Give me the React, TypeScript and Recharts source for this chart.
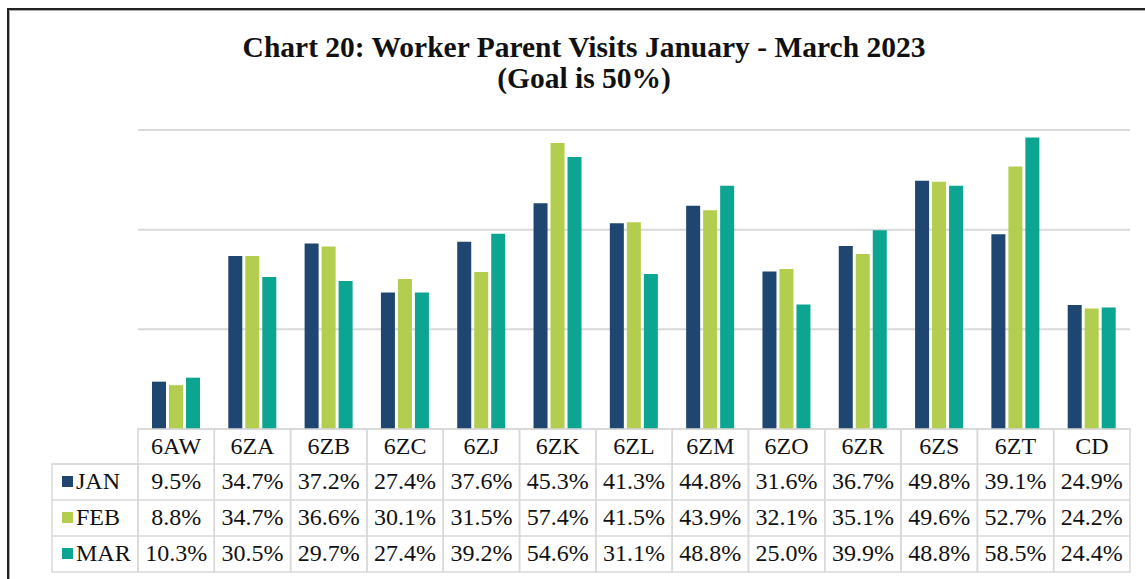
import React from "react";
import { BarChart, Bar, XAxis, YAxis, CartesianGrid } from "recharts";

const categories = ["6AW", "6ZA", "6ZB", "6ZC", "6ZJ", "6ZK", "6ZL", "6ZM", "6ZO", "6ZR", "6ZS", "6ZT", "CD"];
const jan = [9.5, 34.7, 37.2, 27.4, 37.6, 45.3, 41.3, 44.8, 31.6, 36.7, 49.8, 39.1, 24.9];
const feb = [8.8, 34.7, 36.6, 30.1, 31.5, 57.4, 41.5, 43.9, 32.1, 35.1, 49.6, 52.7, 24.2];
const mar = [10.3, 30.5, 29.7, 27.4, 39.2, 54.6, 31.1, 48.8, 25.0, 39.9, 48.8, 58.5, 24.4];
const yTicks = [0, 20, 40, 60];

const series = [
    { key: "JAN", values: jan, color: "#1E4670" },
    { key: "FEB", values: feb, color: "#B3CE4E" },
    { key: "MAR", values: mar, color: "#0BA591" }
];

const data = categories.map((name, i) => ({
    name,
    JAN: jan[i],
    FEB: feb[i],
    MAR: mar[i]
}));

const W = 1145;
const H = 579;
const plotLeft = 138;
const plotRight = 1130;
const plotTop = 130;
const tableTop = 429;
const headerH = 35;
const rowH = 36;
const labelLeft = 52;
const bandW = (plotRight - plotLeft) / categories.length;
const font = "'Liberation Serif', 'Times New Roman', serif";
const gridColor = "#d9d9d9";
const headerBase = 454;
const rowBase = [489, 525, 561];

const TableTick = (props: any) => {
    const { x, payload, index } = props;
    const left = x - bandW / 2;
    const bottom = tableTop + headerH + rowH * 3;
    return (
        <g>
            {index === 0 && (
                <g>
                    <rect x={labelLeft} y={tableTop + headerH} width={plotLeft - labelLeft}
                        height={rowH * 3} fill="none" stroke={gridColor} strokeWidth={1.5} />
                    {series.map((s, r) => (
                        <g key={s.key}>
                            <line x1={labelLeft} x2={plotLeft} y1={tableTop + headerH + rowH * r}
                                y2={tableTop + headerH + rowH * r} stroke={gridColor} strokeWidth={1.5} />
                            <rect x={62} y={rowBase[r] - 13} width={11} height={11} fill={s.color} />
                            <text x={76} y={rowBase[r]} fontFamily={font} fontSize={24} fill="#111">{s.key}</text>
                        </g>
                    ))}
                </g>
            )}
            <rect x={left} y={tableTop} width={bandW} height={bottom - tableTop}
                fill="none" stroke={gridColor} strokeWidth={1.5} />
            {[1, 2, 3].map((k) => (
                <line key={k} x1={left} x2={left + bandW}
                    y1={tableTop + headerH + rowH * (k - 1)} y2={tableTop + headerH + rowH * (k - 1)}
                    stroke={gridColor} strokeWidth={1.5} />
            ))}
            <text x={x} y={headerBase} textAnchor="middle" fontFamily={font} fontSize={24} fill="#111">
                {payload.value}
            </text>
            {series.map((s, r) => (
                <text key={s.key} x={x} y={rowBase[r]} textAnchor="middle" fontFamily={font}
                    fontSize={24} fill="#111">
                    {s.values[index].toFixed(1)}%
                </text>
            ))}
        </g>
    );
};

const App: React.FC = () => {
    return (
        <div style={{ position: "absolute", left: 0, top: 0, width: W, height: H, background: "#fff", overflow: "hidden" }}>
            <div style={{
                position: "absolute", left: 7, top: 8, width: W + 20, height: H + 20,
                borderLeft: "2px solid #222", borderTop: "2px solid #222",
                boxShadow: "inset 1px 1px 0 #aaa"
            }} />
            <svg width={W} height={110} style={{ position: "absolute", left: 0, top: 0 }}>
                <text x={584} y={57} textAnchor="middle" fontFamily={font} fontWeight="bold"
                    fontSize={29.5} fill="#111">Chart 20: Worker Parent Visits January - March 2023</text>
                <text x={584} y={88} textAnchor="middle" fontFamily={font} fontWeight="bold"
                    fontSize={29.5} fill="#111">(Goal is 50%)</text>
            </svg>
            <div style={{ position: "absolute", left: 0, top: 0 }}>
                <BarChart width={W} height={H} data={data} barSize={14} barGap={3}
                    margin={{ top: plotTop, left: plotLeft, right: W - plotRight, bottom: 7 }}>
                    <CartesianGrid vertical={false} stroke={gridColor} strokeWidth={2} />
                    <XAxis dataKey="name" axisLine={false} tickLine={false} height={143}
                        tick={<TableTick />} interval={0} />
                    <YAxis hide domain={[0, 60]} ticks={yTicks} />
                    {series.map((s) => (
                        <Bar key={s.key} dataKey={s.key} fill={s.color} isAnimationActive={false} />
                    ))}
                </BarChart>
            </div>
        </div>
    );
};

export default App;
